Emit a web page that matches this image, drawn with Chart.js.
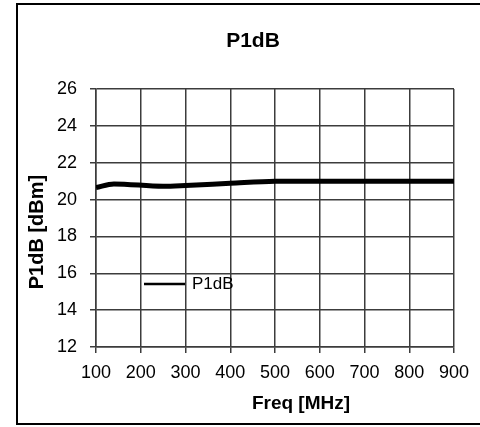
<!DOCTYPE html>
<html>
<head>
<meta charset="utf-8">
<script src="https://cdn.jsdelivr.net/npm/chart.js@4"></script>
<style>
  html, body { margin: 0; padding: 0; background: #fff; overflow: hidden; }
  #wrap { position: relative; width: 480px; height: 427px; }
  #frame {
    position: absolute; left: 16px; top: 3px; width: 480px; height: 418px;
    border: 2.5px solid #000; pointer-events: none;
  }
</style>
</head>
<body>
<div id="wrap">
  <canvas id="p1db" width="480" height="427"></canvas>
  <div id="frame"></div>
</div>
<script>
// P1dB vs frequency

const freq = [100, 140, 250, 300, 400, 500, 600, 700, 800, 900];
const p1db = [20.65, 20.85, 20.72, 20.76, 20.88, 20.99, 21.0, 21.0, 21.0, 21.0];
const seriesName = 'P1dB';
const chartTitle = 'P1dB';
const xTitle = 'Freq [MHz]';
const yTitle = 'P1dB [dBm]';

const gridColour = '#3c3c3c';
const font = 'Liberation Sans, Arial, sans-serif';

// titles and legend are drawn here so they sit where the original has them
const chartText = {
  id: 'chartText',
  afterDraw(chart) {
    const ctx = chart.ctx;
    const a = chart.chartArea;
    ctx.save();
    ctx.fillStyle = '#000';
    ctx.textBaseline = 'middle';
    ctx.textAlign = 'center';

    ctx.font = 'bold 21px ' + font;
    ctx.fillText(chartTitle, 253, 41);

    ctx.font = 'bold 19px ' + font;
    ctx.fillText(xTitle, 301, 404);

    ctx.save();
    ctx.translate(37, 232);
    ctx.rotate(-Math.PI / 2);
    ctx.font = 'bold 20px ' + font;
    ctx.fillText(yTitle, 0, 0);
    ctx.restore();

    // legend inside the plot
    const lx = a.left + 48, ly = 284;
    ctx.strokeStyle = '#000';
    ctx.lineWidth = 2.5;
    ctx.beginPath();
    ctx.moveTo(lx, ly);
    ctx.lineTo(lx + 41, ly);
    ctx.stroke();
    ctx.textAlign = 'left';
    ctx.font = '17px ' + font;
    ctx.fillText(seriesName, lx + 48, ly);
    ctx.restore();
  }
};

const p1dbChart = new Chart(document.getElementById('p1db').getContext('2d'), {
  type: 'line',
  data: {
    datasets: [{
      label: seriesName,
      data: freq.map((f, i) => ({ x: f, y: p1db[i] })),
      borderColor: '#000',
      borderWidth: 5,
      pointRadius: 0,
      cubicInterpolationMode: 'monotone',
      fill: false
    }]
  },
  plugins: [chartText],
  options: {
    responsive: false,
    animation: false,
    layout: {
      padding: { left: 20, right: 26, top: 89, bottom: 0 }
    },
    scales: {
      x: {
        type: 'linear',
        min: 100,
        max: 900,
        afterFit: (scale) => { scale.height = 80; },
        grid: { color: gridColour, lineWidth: 1.5, tickLength: 6 },
        border: { color: gridColour, width: 1.5 },
        ticks: {
          stepSize: 100,
          color: '#000',
          padding: 9,
          maxRotation: 0,
          font: { family: font, size: 18 }
        }
      },
      y: {
        min: 12,
        max: 26,
        afterFit: (scale) => { scale.width = 76; },
        grid: { color: gridColour, lineWidth: 1.5, tickLength: 6 },
        border: { color: gridColour, width: 1.5 },
        ticks: {
          stepSize: 2,
          color: '#000',
          padding: 13,
          font: { family: font, size: 18 }
        }
      }
    },
    plugins: {
      legend: { display: false },
      title: { display: false },
      tooltip: { enabled: false }
    }
  }
});
</script>
</body>
</html>
